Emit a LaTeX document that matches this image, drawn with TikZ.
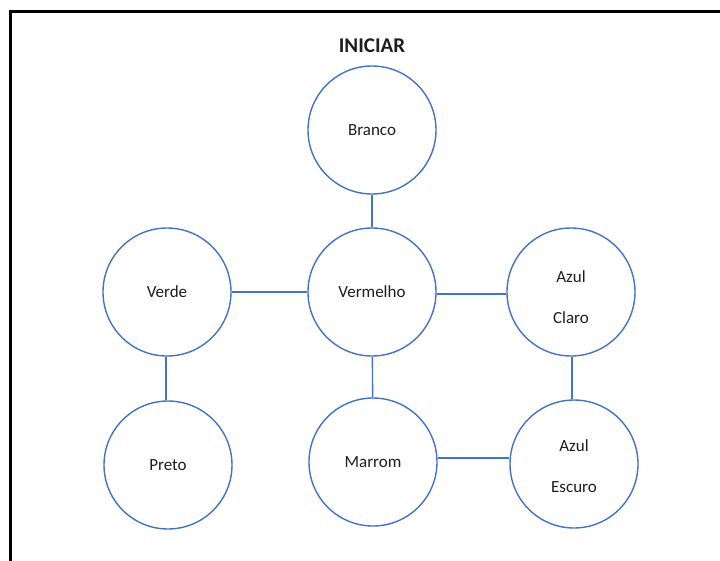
\documentclass[tikz,border=0pt]{standalone}
\usepackage{fontspec}
\setmainfont{Carlito}
\definecolor{cblue}{RGB}{68,114,196}
\definecolor{ctext}{RGB}{30,30,30}
\begin{document}
\begin{tikzpicture}[x=1pt,y=-1pt,
  cnode/.style={circle,draw=cblue,line width=1.4pt,minimum size=128pt,inner sep=0pt,
    font=\fontsize{17}{41}\selectfont,text=ctext,align=center},
  link/.style={draw=cblue,line width=1.4pt}]
\useasboundingbox (0,0) rectangle (720,560);
\fill[white] (0,0) rectangle (720,560);
\draw[line width=3pt,line cap=rect] (10.5,562) -- (10.5,11) -- (722,11);
\node[font=\fontsize{21}{24}\bfseries,text=ctext] (title) at (372,46) {INICIAR};
\node[cnode] (branco) at (372,130) {Branco};
\node[cnode] (vermelho) at (372,292) {Vermelho};
\node[cnode] (verde) at (167,292) {Verde};
\node[cnode] (claro) at (571,292) {\raisebox{-5pt}[\height][\depth]{\parbox{60pt}{\centering Azul\\Claro}}};
\node[cnode] (preto) at (168,465) {Preto};
\node[cnode] (marrom) at (373,462) {Marrom};
\node[cnode] (escuro) at (574,464) {\raisebox{-2pt}[\height][\depth]{\parbox{60pt}{\centering Azul\\Escuro}}};
\draw[link] (branco) -- (vermelho);
\draw[link] (verde) -- (vermelho);
\draw[link] (vermelho.east |- 0,294) -- (claro.west |- 0,294);
\draw[link] (166,0 |- verde.south) -- (166,0 |- preto.north);
\draw[link] (vermelho) -- (marrom);
\draw[link] (572,0 |- claro.south) -- (572,0 |- escuro.north);
\draw[link] (marrom.east |- 0,458) -- (escuro.west |- 0,458);
\end{tikzpicture}
\end{document}
